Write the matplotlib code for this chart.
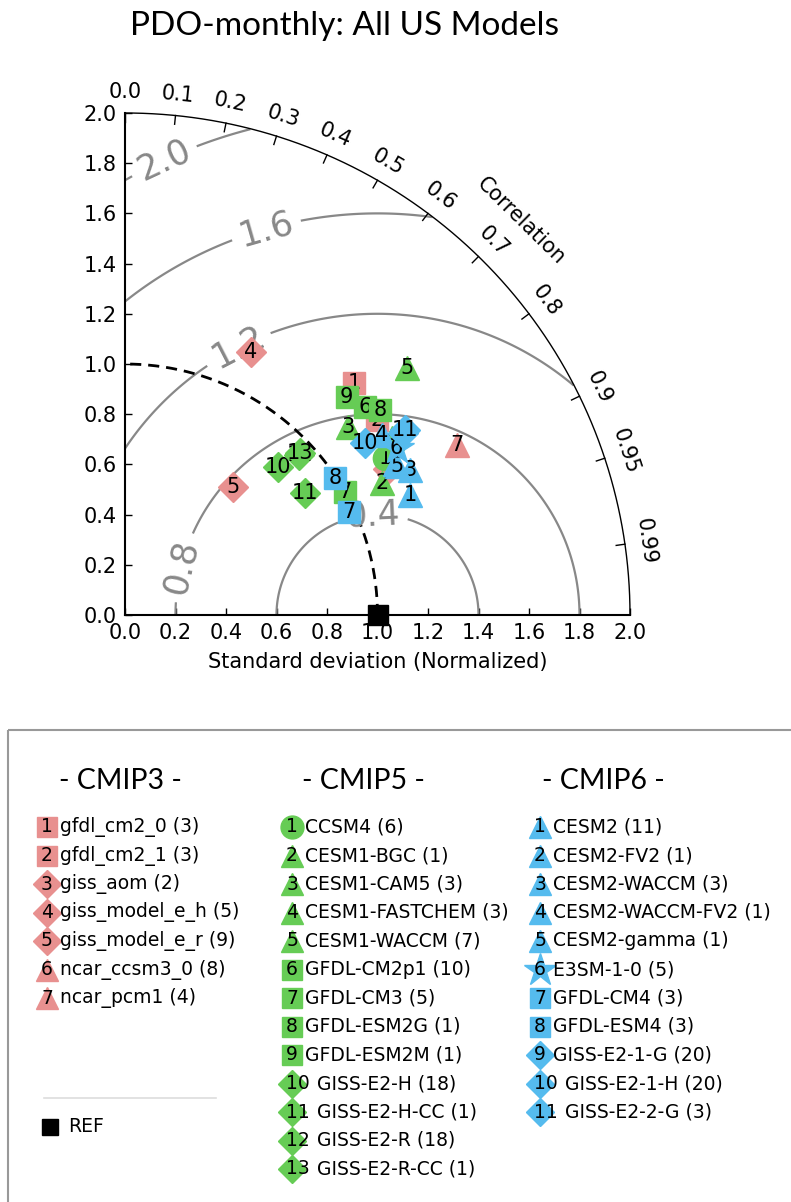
import numpy as np
import matplotlib
matplotlib.use("Agg")
import matplotlib.pyplot as plt
from matplotlib.patches import Rectangle

# ---------------- data ----------------
cmip3_names = ["gfdl_cm2_0 (3)", "gfdl_cm2_1 (3)", "giss_aom (2)", "giss_model_e_h (5)",
               "giss_model_e_r (9)", "ncar_ccsm3_0 (8)", "ncar_pcm1 (4)"]
cmip3_markers = ['s', 's', 'D', 'D', 'D', '^', '^']
cmip3_std = [1.294, 1.264, 1.191, 1.159, 0.667, 1.209, 1.478]
cmip3_corr = [0.701, 0.789, 0.873, 0.430, 0.643, 0.868, 0.889]

cmip5_names = ["CCSM4 (6)", "CESM1-BGC (1)", "CESM1-CAM5 (3)", "CESM1-FASTCHEM (3)",
               "CESM1-WACCM (7)", "GFDL-CM2p1 (10)", "GFDL-CM3 (5)", "GFDL-ESM2G (1)",
               "GFDL-ESM2M (1)", "GISS-E2-H (18)", "GISS-E2-H-CC (1)", "GISS-E2-R (18)",
               "GISS-E2-R-CC (1)"]
cmip5_markers = ['o', '^', '^', '^', '^', 's', 's', 's', 's', 'D', 'D', 'D', 'D']
cmip5_std = [1.204, 1.145, 1.160, 1.269, 1.487, 1.260, 1.000, 1.300, 1.236, 0.847, 0.862, 0.940, 0.946]
cmip5_corr = [0.855, 0.888, 0.763, 0.832, 0.750, 0.754, 0.871, 0.777, 0.710, 0.717, 0.827, 0.735, 0.733]

cmip6_names = ["CESM2 (11)", "CESM2-FV2 (1)", "CESM2-WACCM (3)", "CESM2-WACCM-FV2 (1)",
               "CESM2-gamma (1)", "E3SM-1-0 (5)", "GFDL-CM4 (3)", "GFDL-ESM4 (3)",
               "GISS-E2-1-G (20)", "GISS-E2-1-H (20)", "GISS-E2-2-G (3)"]
cmip6_markers = ['^', '^', '^', '^', '^', '*', 's', 's', 'D', 'D', 'D']
cmip6_std = [1.226, 1.227, 1.268, 1.244, 1.228, 1.264, 0.976, 0.995, 1.318, 1.171, 1.332]
cmip6_corr = [0.921, 0.872, 0.890, 0.817, 0.876, 0.851, 0.907, 0.837, 0.836, 0.811, 0.833]

rms_levels = [0.4, 0.8, 1.2, 1.6, 2.0]
corr_ticks = [0.0, 0.1, 0.2, 0.3, 0.4, 0.5, 0.6, 0.7, 0.8, 0.9, 0.95, 0.99]
std_ticks = [0.0, 0.2, 0.4, 0.6, 0.8, 1.0, 1.2, 1.4, 1.6, 1.8, 2.0]
ref_std = 1.0

groups = [
    ("- CMIP3 -", cmip3_names, cmip3_markers, cmip3_std, cmip3_corr, '#E8908F'),
    ("- CMIP5 -", cmip5_names, cmip5_markers, cmip5_std, cmip5_corr, '#66CC55'),
    ("- CMIP6 -", cmip6_names, cmip6_markers, cmip6_std, cmip6_corr, '#55BBEE'),
]

msize = {'s': 14, 'D': 14, '^': 16, 'o': 16, '*': 24}

# ---------------- figure ----------------
W, H = 791, 1202
fig = plt.figure(figsize=(W / 100, H / 100), dpi=100)
ax = fig.add_axes([125 / W, 1 - 615 / H, 505 / W, 502 / H])
ax.set_xlim(0, 2.0)
ax.set_ylim(0, 2.0)
ax.set_aspect('auto')
for s in ['top', 'right']:
    ax.spines[s].set_visible(False)
for s in ['left', 'bottom']:
    ax.spines[s].set_linewidth(1.5)
ax.set_xticks(std_ticks)
ax.set_yticks(std_ticks)
ax.set_xticklabels([f"{v:.1f}" for v in std_ticks])
ax.set_yticklabels([f"{v:.1f}" for v in std_ticks])
ax.tick_params(direction='in', length=5, width=1, labelsize=15, pad=6)
ax.set_xlabel("Standard deviation (Normalized)", fontsize=15, labelpad=6)

# RMS contours
g = np.linspace(0, 2.0, 700)
X, Y = np.meshgrid(g, g)
Rrms = np.sqrt((X - ref_std) ** 2 + Y ** 2)
Rm = np.ma.masked_where(np.sqrt(X ** 2 + Y ** 2) > 2.0, Rrms)
cs = ax.contour(X, Y, Rm, levels=rms_levels, colors='#888888', linewidths=1.6)
label_pos = [(0.978, 0.446), (0.238, 0.187), (0.450, 1.060), (0.554, 1.554), (0.125, 1.875)]
ax.clabel(cs, manual=label_pos, inline=True, fontsize=25, fmt='%.1f', inline_spacing=8)

# outer arc
t = np.linspace(0, np.pi / 2, 400)
ax.plot(2.0 * np.cos(t), 2.0 * np.sin(t), color='black', lw=1.0, clip_on=False)
# reference std dashed arc
ax.plot(ref_std * np.cos(t), ref_std * np.sin(t), color='black', lw=2, ls=(0, (4, 2.5)))

# correlation ticks
for c in corr_ticks:
    th = np.arccos(c)
    ax.plot([1.965 * np.cos(th), 2.0 * np.cos(th)], [1.965 * np.sin(th), 2.0 * np.sin(th)],
            color='black', lw=1, clip_on=False)
    ax.text(2.085 * np.cos(th), 2.085 * np.sin(th), "0.0" if c == 0.0 else f"{c:g}",
            rotation=np.degrees(th) - 90, ha='center', va='center', fontsize=15,
            rotation_mode='anchor', clip_on=False)
ax.text(2.22 * np.cos(np.radians(45.0)), 2.22 * np.sin(np.radians(45.0)), "Correlation",
        rotation=-44.5, ha='center', va='center', fontsize=15, rotation_mode='anchor', clip_on=False)

# model points (later groups / later points drawn on top)
z = 3
for title, names, markers, stds, corrs, col in groups:
    for i, (m, sd, cr) in enumerate(zip(markers, stds, corrs)):
        th = np.arccos(cr)
        x, y = sd * np.cos(th), sd * np.sin(th)
        ax.plot(x, y, marker=m, ms=msize[m] + 1.5, color=col, mec=col, ls='none',
                clip_on=False, zorder=z)
        ax.text(x, y, str(i + 1), ha='center', va='center', fontsize=15, color='black',
                zorder=z + 1)
        z += 2

# REF
ax.plot(ref_std, 0, marker='s', ms=14, color='black', clip_on=False, zorder=z + 2)

# title
fig.text(344 / W, 1 - 26 / H, "PDO-monthly: All US Models", ha='center', va='center',
         fontsize=24, family=['Lato', 'DejaVu Sans'])

# ---------------- legend (pixel-coordinate overlay) ----------------
lax = fig.add_axes([0, 0, 1, 1])
lax.set_xlim(0, W)
lax.set_ylim(H, 0)
lax.axis('off')
lax.add_patch(Rectangle((8, 730), 800, 500, fill=False, edgecolor='#999999', lw=1.5, clip_on=False))

col_mx = [47, 292, 540]
col_hx = [120, 363, 603]
row0, dy = 827, 28.5
for (title, names, markers, stds, corrs, col), mx, hx in zip(groups, col_mx, col_hx):
    lax.text(hx, 781, title, ha='center', va='center', fontsize=20.5, family=['Lato', 'DejaVu Sans'])
    for i, (nm, m) in enumerate(zip(names, markers)):
        yy = row0 + i * dy
        lax.plot(mx, yy, marker=m, ms=msize[m] + 0.5, color=col, mec=col, ls='none')
        n = i + 1
        if n < 10:
            lax.text(mx, yy, str(n), ha='center', va='center', fontsize=13.5)
            lax.text(mx + 13, yy, nm, ha='left', va='center', fontsize=13.5)
        else:
            lax.text(mx - 6, yy, str(n), ha='left', va='center', fontsize=13.5)
            lax.text(mx + 25, yy, nm, ha='left', va='center', fontsize=13.5)

lax.plot([44, 216], [1098, 1098], color='#dddddd', lw=1.2)
lax.plot(50, 1127, marker='s', ms=12, color='black', ls='none')
lax.text(68, 1127, "REF", ha='left', va='center', fontsize=13.5)

fig.savefig("out.png", dpi=100)
